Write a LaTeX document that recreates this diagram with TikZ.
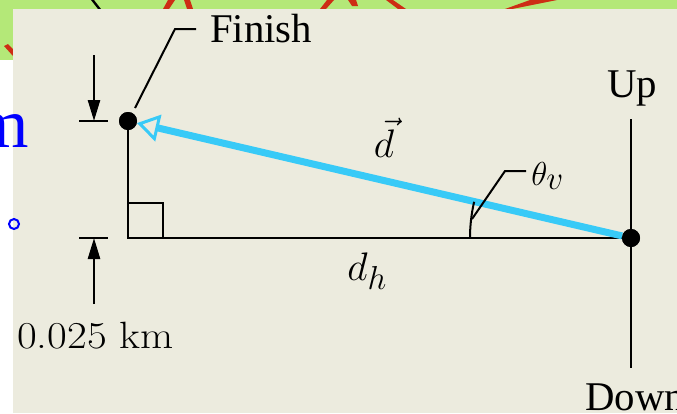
\documentclass[tikz,border=0pt]{standalone}
\usepackage{fontspec}
\newfontfamily\txt{Liberation Serif}
\usetikzlibrary{arrows.meta}
\definecolor{panel}{RGB}{236,235,222}
\definecolor{leaf}{RGB}{180,232,120}
\definecolor{vblue}{RGB}{56,202,247}
\definecolor{redmark}{RGB}{205,45,20}
\newcommand{\subbig}[1]{\hbox{\fontsize{20.74}{25}\selectfont$#1$}}
\tikzset{
  dot/.style={circle, fill=black, inner sep=0pt, minimum size=18pt},
  mainline/.style={line width=2.6pt},
  leader/.style={line width=2pt},
  dimarrow/.style={line width=2.6pt, -{Triangle[length=21pt,width=12pt]}},
  lbl/.style={font=\txt\fontsize{40.8}{48}\selectfont, inner sep=0pt},
  mathlbl/.style={font=\fontsize{24.88}{30}\selectfont, inner sep=0pt, scale=1.6},
  vecarrow/.style={draw=vblue, line width=7pt, -{Triangle[open, length=22pt, width=27pt, line width=3pt]}},
  redbit/.style={fill=redmark},
}
\begin{document}
\begin{tikzpicture}[x=1pt,y=-1pt]
\useasboundingbox (0,0) rectangle (677,413);
% background
\fill[leaf] (0,0) rectangle (677,9);
\fill[leaf] (0,0) rectangle (13,60);
\fill[white] (0,60) rectangle (13,413);
\fill[redbit] (163,9) -- (168,0) -- (175,0) -- (169,9) -- cycle;
\fill[redbit] (184,0) -- (190,0) -- (193,9) -- (187,9) -- cycle;
\fill[redbit] (320,9) -- (327,0) -- (334,0) -- (326,9) -- cycle;
\fill[redbit] (348,0) -- (356,0) -- (358,6) -- (352,6) -- cycle;
\fill[redbit] (386,0) -- (393,0) -- (406,9) -- (398,9) -- cycle;
\fill[redbit] (505,9) -- (530,0) -- (557,0) -- (512,9) -- cycle;
\fill[black] (91,0) -- (94,0) -- (101,9) -- (98,9) -- cycle;
\fill[redbit] (4,46) -- (8,44) -- (13,49) -- (13,56) -- cycle;
\fill[panel] (13,9) rectangle (677,413);
% blue remnants of slide text
\node[font=\txt\fontsize{70}{80}\selectfont, text=blue, inner sep=0pt, anchor=base east] (mtext) at (29,147) {m};
\draw[blue, line width=2pt] (14,224) circle (5pt);

% points
\coordinate (C) at (128,238);
\coordinate (Ut) at (631,119);
\coordinate (Db) at (631,368);
\node[dot] (F) at (128,121) {};
\node[dot] (R) at (631,238) {};

% lines
\draw[mainline] (F.center) -- (C) -- (R.center);
\draw[mainline] (Ut) -- (Db);
\draw[line width=2.2pt] (128,203) -- (163,203) -- (163,238);
\node[dot] at (F) {};
\node[dot] at (R) {};

% displacement vector
\draw[vecarrow] (R) -- (F);

% angle arc and leader
\draw[leader] (470,238) arc[start angle=180, end angle=167, radius=161pt];
\coordinate (thL0) at (472,219);
\coordinate (thL1) at (505,171);
\coordinate (thL2) at (526,171);
\draw[leader] (thL0) -- (thL1) -- (thL2);
\node[font=\fontsize{20.74}{25}\selectfont, inner sep=0pt, scale=1.6, anchor=base west] (theta) at (531,185) {$\theta_{\subbig{v}}$};

% finish leader
\coordinate (fL0) at (135,108);
\coordinate (fL1) at (175,29);
\coordinate (fL2) at (196,29);
\draw[leader] (fL0) -- (fL1) -- (fL2);
\node[lbl, anchor=base west] (finish) at (210,42) {Finish};

% Up / Down
\node[lbl, anchor=base] (up) at (632,97) {Up};
\node[lbl, anchor=base west] (down) at (585,410) {Down};

% vector labels
\node[mathlbl, anchor=base] (dvec) at (384,157) {$\vec{d}$};
\node[mathlbl, anchor=base west] (dh) at (347,280) {$d_{\subbig{h}}$};

% dimension marks
\coordinate (tk1a) at (79,121);
\coordinate (tk1b) at (108,121);
\coordinate (tk2a) at (79,238);
\coordinate (tk2b) at (108,238);
\draw[mainline] (tk1a) -- (tk1b);
\draw[mainline] (tk2a) -- (tk2b);
\coordinate (a1s) at (94,55);
\coordinate (a1e) at (94,121);
\coordinate (a2s) at (94,304);
\coordinate (a2e) at (94,238);
\draw[dimarrow] (a1s) -- (a1e);
\draw[dimarrow] (a2s) -- (a2e);
\node[font=\fontsize{38}{44}\selectfont, inner sep=0pt, xscale=1.13, anchor=base west] (dist) at (17,348) {0.025 km};
\end{tikzpicture}
\end{document}
